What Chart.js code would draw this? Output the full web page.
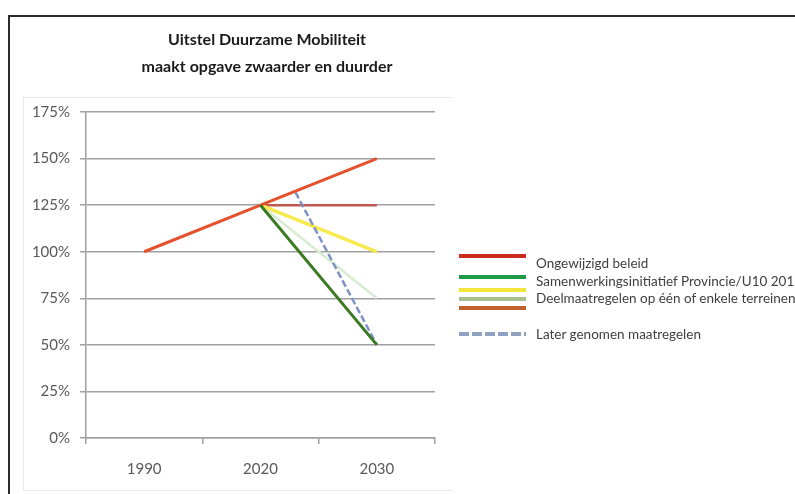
<!DOCTYPE html>
<html>
<head>
<meta charset="utf-8">
<script src="https://cdn.jsdelivr.net/npm/chart.js@4"></script>
<style>
  html, body { margin: 0; padding: 0; background: #fff; overflow: hidden; }
  body { width: 795px; height: 494px; position: relative; font-family: Lato, "Open Sans", sans-serif; }
  #frame { position: absolute; left: 8px; top: 15px; width: 800px; height: 500px; border-left: 2px solid #2b2b2b; border-top: 2px solid #2b2b2b; }
  #inner { position: absolute; left: 23px; top: 97px; width: 428px; height: 392px; border: 1px solid #e8e8e8; border-right: none; }
  #myChart { position: absolute; left: 0; top: 0; }
  .sw { position: absolute; left: 459px; width: 67px; height: 4px; }
  .lbl { position: absolute; left: 536px; font-size: 13.5px; color: #404040; white-space: nowrap; line-height: 14px; }
</style>
</head>
<body>
<div id="frame"></div>
<div id="inner"></div>
<canvas id="myChart" width="534" height="494"></canvas>

<div class="sw" style="top:254px;background:#cc2a1e"></div>
<div class="lbl" style="top:256px">Ongewijzigd beleid</div>
<div class="sw" style="top:275px;background:#1f9a48"></div>
<div class="lbl" style="top:274px">Samenwerkingsinitiatief Provincie/U10 2019</div>
<div class="sw" style="top:288px;background:#f2e53c"></div>
<div class="sw" style="top:297px;background:#a9bd8e"></div>
<div class="lbl" style="top:291px">Deelmaatregelen op één of enkele terreinen</div>
<div class="sw" style="top:306px;background:#c0612f"></div>
<div class="sw" style="top:332px;background:repeating-linear-gradient(90deg,#8fa2c2 0 10px,transparent 10px 13px)"></div>
<div class="lbl" style="top:327px">Later genomen maatregelen</div>

<script>
const years = ['1990', '2020', '2030'];
const yTicks = [0, 25, 50, 75, 100, 125, 150, 175];

// x positions are category indexes (0 = 1990, 1 = 2020, 2 = 2030)
const ongewijzigdX = [0, 1, 2];
const ongewijzigdY = [100, 125, 150];
const samenwerkingX = [1, 2];
const samenwerkingY = [125, 50];
const deelGeelX = [1, 2];
const deelGeelY = [125, 100];
const deelGroenX = [1, 2];
const deelGroenY = [125, 75];
const deelBruinX = [1, 2];
const deelBruinY = [125, 125];
const laterX = [1.3, 2];
const laterY = [132, 50];

const pts = (xs, ys) => xs.map((x, i) => ({ x: x, y: ys[i] }));

const ctx = document.getElementById('myChart').getContext('2d');
const data = {
  labels: years,
  datasets: [
    { label: 'Samenwerkingsinitiatief', data: pts(samenwerkingX, samenwerkingY), borderColor: '#3b7a22', borderWidth: 3 },
    { label: 'Ongewijzigd beleid', data: pts(ongewijzigdX, ongewijzigdY), borderColor: '#e5512d', borderWidth: 3 },
    { label: 'Later genomen maatregelen', data: pts(laterX, laterY), borderColor: '#7d92c6', borderWidth: 2.5, borderDash: [7, 3] },
    { label: 'Deel geel', data: pts(deelGeelX, deelGeelY), borderColor: '#f6ea4e', borderWidth: 3.5 },
    { label: 'Deel bruin', data: pts(deelBruinX, deelBruinY), borderColor: '#be5a50', borderWidth: 2.5 },
    { label: 'Deel groen', data: pts(deelGroenX, deelGroenY), borderColor: '#d8ecd2', borderWidth: 2.5 }
  ]
};

const config = {
  type: 'line',
  data: data,
  options: {
    responsive: false,
    animation: false,
    layout: { padding: 0 },
    elements: { point: { radius: 0 }, line: { tension: 0, fill: false } },
    plugins: {
      legend: { display: false },
      tooltip: { enabled: false },
      title: {
        display: true,
        text: ['Uitstel Duurzame Mobiliteit', 'maakt opgave zwaarder en duurder'],
        color: '#1a1a1a',
        font: { family: 'Lato', size: 16, weight: 'bold', lineHeight: 1.69 },
        padding: { top: 26.5, bottom: 31.5 }
      }
    },
    scales: {
      x: { type: 'linear', min: -0.5, max: 2.5, display: false },
      xc: {
        type: 'category',
        labels: years,
        position: 'bottom',
        offset: true,
        grid: { offset: true, drawOnChartArea: false, drawTicks: true, tickLength: 6, color: '#a0a0a0', lineWidth: 1.5 },
        border: { display: true, color: '#a0a0a0', width: 1.5 },
        ticks: { color: '#595959', font: { family: 'Lato', size: 15 }, padding: 16 },
        afterFit: function(scale) { scale.height = 56; }
      },
      y: {
        min: 0,
        max: 175,
        afterBuildTicks: function(scale) { scale.ticks = yTicks.map(v => ({ value: v })); },
        grid: { color: '#a0a0a0', lineWidth: 1.5, tickLength: 6 },
        border: { display: true, color: '#a0a0a0', width: 1.5 },
        ticks: { color: '#595959', font: { family: 'Lato', size: 15 }, padding: 10, callback: function(v) { return v + '%'; } },
        afterFit: function(scale) { scale.width = 86; }
      },
      // empty right-hand spacer so the title centres over the full canvas
      yr: {
        position: 'right',
        min: 0,
        max: 175,
        grid: { drawOnChartArea: false, drawTicks: false },
        border: { display: false },
        ticks: { display: false },
        afterFit: function(scale) { scale.width = 99; }
      }
    }
  }
};

new Chart(ctx, config);
</script>
</body>
</html>
